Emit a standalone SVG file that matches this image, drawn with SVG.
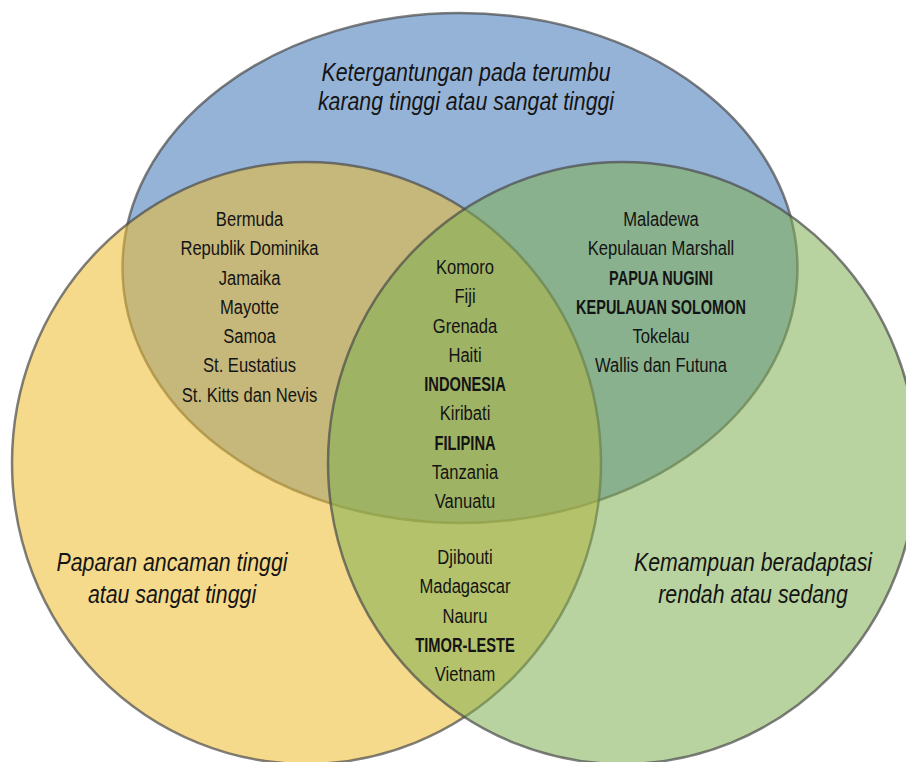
<svg xmlns="http://www.w3.org/2000/svg" width="906" height="762" viewBox="0 0 906 762">
<style>
.set{stroke:#4a4a4a;stroke-opacity:0.7;stroke-width:2.5}
.t{font-family:"Liberation Sans",Arial,sans-serif;font-size:21px;fill:#141414;text-anchor:middle}
.b{font-weight:bold}
.lab{font-family:"Liberation Sans",Arial,sans-serif;font-size:26px;font-style:italic;fill:#141414;text-anchor:middle}
</style>
<rect width="906" height="762" fill="#ffffff"/>
<g id="set-blue"><ellipse class="set" cx="460" cy="268" rx="337.5" ry="255" fill="#95b3d7"/></g>
<g id="set-yellow"><ellipse class="set" cx="306.5" cy="463" rx="294.5" ry="301" fill="#efbc2e" fill-opacity="0.55"/></g>
<g id="set-green"><ellipse class="set" cx="622.5" cy="463" rx="294.5" ry="301" fill="#80af52" fill-opacity="0.55"/></g>
<g id="label-blue" transform="translate(466 0) scale(0.82 1)">
<text class="lab" x="0" y="81">Ketergantungan pada terumbu</text>
<text class="lab" x="0" y="110">karang tinggi atau sangat tinggi</text>
</g>
<g id="label-yellow" transform="translate(172 0) scale(0.82 1)">
<text class="lab" x="0" y="571">Paparan ancaman tinggi</text>
<text class="lab" x="0" y="603">atau sangat tinggi</text>
</g>
<g id="label-green" transform="translate(753 0) scale(0.82 1)">
<text class="lab" x="0" y="571">Kemampuan beradaptasi</text>
<text class="lab" x="0" y="603">rendah atau sedang</text>
</g>
<g id="blue-yellow" transform="translate(249.5 0) scale(0.79 1)">
<text class="t" x="0" y="226">Bermuda</text>
<text class="t" x="0" y="255.3">Republik Dominika</text>
<text class="t" x="0" y="284.6">Jamaika</text>
<text class="t" x="0" y="314">Mayotte</text>
<text class="t" x="0" y="343.2">Samoa</text>
<text class="t" x="0" y="372.5">St. Eustatius</text>
<text class="t" x="0" y="401.8">St. Kitts dan Nevis</text>
</g>
<g id="blue-green" transform="translate(661 0)">
<g transform="scale(0.79 1)">
<text class="t" x="0" y="226">Maladewa</text>
<text class="t" x="0" y="255.3">Kepulauan Marshall</text>
<text class="t" x="0" y="343.2">Tokelau</text>
<text class="t" x="0" y="372.5">Wallis dan Futuna</text>
</g>
<g transform="scale(0.69 1)">
<text class="t b" x="0" y="284.6">PAPUA NUGINI</text>
<text class="t b" x="0" y="314">KEPULAUAN SOLOMON</text>
</g>
</g>
<g id="all-three" transform="translate(465 0)">
<g transform="scale(0.79 1)">
<text class="t" x="0" y="274">Komoro</text>
<text class="t" x="0" y="303.3">Fiji</text>
<text class="t" x="0" y="332.6">Grenada</text>
<text class="t" x="0" y="362">Haiti</text>
<text class="t" x="0" y="420.5">Kiribati</text>
<text class="t" x="0" y="479">Tanzania</text>
<text class="t" x="0" y="508.3">Vanuatu</text>
</g>
<g transform="scale(0.7 1)">
<text class="t b" x="0" y="391.2">INDONESIA</text>
<text class="t b" x="0" y="449.8">FILIPINA</text>
</g>
</g>
<g id="yellow-green" transform="translate(465 0)">
<g transform="scale(0.79 1)">
<text class="t" x="0" y="564">Djibouti</text>
<text class="t" x="0" y="593.3">Madagascar</text>
<text class="t" x="0" y="622.6">Nauru</text>
<text class="t" x="0" y="681.3">Vietnam</text>
</g>
<g transform="scale(0.7 1)">
<text class="t b" x="0" y="652">TIMOR-LESTE</text>
</g>
</g>
</svg>
